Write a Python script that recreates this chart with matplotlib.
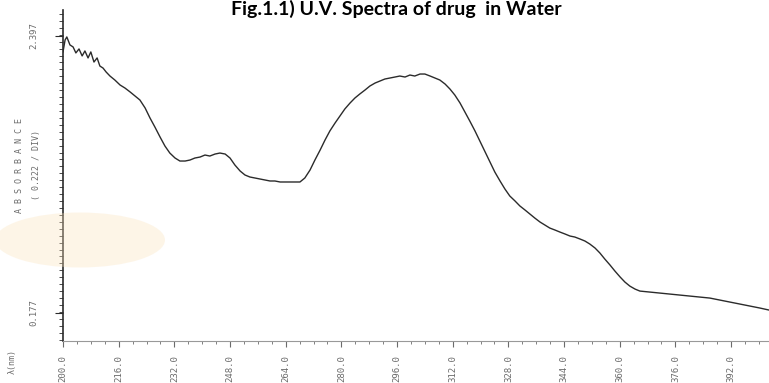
"""UV spectrum of drug in water, redrawn from a scanned figure."""

import matplotlib
matplotlib.use("Agg")
import matplotlib.pyplot as plt
from matplotlib.patches import Ellipse
from matplotlib.ticker import MultipleLocator, FixedLocator
import numpy as np

# ── data ─────────────────────────────────────────────────
wavelength = [
    200.0, 200.6, 201.1, 202.0, 202.9, 203.7, 204.6, 205.5, 206.3, 207.2,
    208.0, 208.9, 209.8, 210.6, 211.5, 212.4, 213.5, 214.9, 216.4, 217.8,
    219.3, 220.7, 222.1, 223.6, 225.0, 226.4, 227.9, 229.3, 230.7, 232.2,
    233.6, 235.1, 236.5, 237.9, 239.4, 240.8, 242.2, 243.7, 245.1, 246.6,
    248.0, 249.4, 250.9, 252.3, 253.7, 255.2, 256.6, 258.0, 259.5, 260.9,
    262.4, 263.8, 265.2, 266.7, 268.1, 269.5, 271.0, 272.4, 273.9, 275.3,
    276.7, 278.2, 279.6, 281.0, 282.5, 283.9, 285.3, 286.8, 288.2, 289.7,
    291.1, 292.5, 294.0, 295.4, 296.8, 298.3, 299.7, 301.1, 302.6, 304.0,
    305.5, 306.9, 308.3, 309.8, 311.2, 312.6, 314.1, 315.5, 316.9, 318.4,
    319.8, 321.3, 322.7, 324.1, 325.6, 327.0, 328.4, 329.9, 331.3, 332.8,
    334.2, 335.6, 337.1, 338.5, 339.9, 341.4, 342.8, 344.3, 345.7, 347.1,
    348.6, 350.0, 351.4, 352.9, 354.3, 355.7, 357.2, 358.6, 360.1, 361.5,
    362.9, 364.4, 365.8, 368.7, 371.6, 374.4, 377.3, 380.2, 383.0, 385.9,
    388.8, 391.7, 394.5, 397.4, 400.3, 402.9,
]
absorbance = [
    2.269, 2.365, 2.389, 2.325, 2.309, 2.261, 2.293, 2.237, 2.277, 2.221,
    2.269, 2.188, 2.221, 2.156, 2.140, 2.108, 2.076, 2.044, 2.004, 1.980,
    1.948, 1.916, 1.884, 1.820, 1.740, 1.668, 1.587, 1.515, 1.459, 1.419,
    1.395, 1.395, 1.403, 1.419, 1.427, 1.443, 1.435, 1.451, 1.459, 1.451,
    1.419, 1.363, 1.315, 1.283, 1.267, 1.259, 1.251, 1.243, 1.235, 1.235,
    1.227, 1.227, 1.227, 1.227, 1.227, 1.259, 1.323, 1.403, 1.483, 1.563,
    1.636, 1.700, 1.756, 1.812, 1.860, 1.900, 1.932, 1.964, 1.996, 2.020,
    2.036, 2.052, 2.060, 2.068, 2.076, 2.068, 2.084, 2.076, 2.092, 2.092,
    2.076, 2.060, 2.044, 2.012, 1.972, 1.924, 1.860, 1.788, 1.716, 1.636,
    1.555, 1.467, 1.387, 1.307, 1.235, 1.171, 1.115, 1.075, 1.035, 1.002,
    0.970, 0.938, 0.906, 0.882, 0.858, 0.842, 0.826, 0.810, 0.794, 0.786,
    0.770, 0.754, 0.730, 0.698, 0.658, 0.610, 0.562, 0.514, 0.466, 0.425,
    0.393, 0.369, 0.353, 0.345, 0.337, 0.329, 0.321, 0.313, 0.305, 0.297,
    0.281, 0.265, 0.249, 0.233, 0.217, 0.201,
]
x_major = [200, 216, 232, 248, 264, 280, 296, 312, 328, 344, 360, 376, 392]
x_labels = ["200.0", "216.0", "232.0", "248.0", "264.0", "280.0", "296.0",
            "312.0", "328.0", "344.0", "360.0", "376.0", "392.0"]
y_major = [0.177, 2.397]
y_labels = ["0.177", "2.397"]

GREY = "#6b6b6b"
INK = "#2b2b2b"

fig = plt.figure(figsize=(7.69, 3.83), dpi=100)
fig.patch.set_facecolor("white")

# faint stain from the scan
fig.patches.append(Ellipse((80 / 769, 1 - 240 / 383), 170 / 769, 55 / 383,
                           transform=fig.transFigure, facecolor="#fbe3bd",
                           alpha=0.35, edgecolor="none", zorder=0))

ax = fig.add_axes([63 / 769, 42 / 383, 706 / 769, 331 / 383])
ax.patch.set_alpha(0)
ax.plot(wavelength, absorbance, color=INK, lw=1.0)

ax.set_xlim(200, 402.9)
ax.set_ylim(-0.047, 2.605)
for side in ("top", "right"):
    ax.spines[side].set_visible(False)
ax.spines["left"].set_color(INK)
ax.spines["bottom"].set_color("#999999")
ax.spines["left"].set_linewidth(1.2)

ax.xaxis.set_major_locator(FixedLocator(x_major))
ax.xaxis.set_minor_locator(MultipleLocator(4))
ax.set_xticklabels(x_labels, rotation=90, fontsize=6.5, color=GREY,
                   family="DejaVu Sans Mono")
ax.tick_params(axis="x", which="major", length=4, color=GREY, pad=6)
ax.tick_params(axis="x", which="minor", length=2.5, color=GREY)

ax.yaxis.set_major_locator(FixedLocator(y_major))
ax.yaxis.set_minor_locator(FixedLocator(np.arange(-0.0355, 2.6, 0.0555)))
ax.set_yticklabels(y_labels, rotation=90, fontsize=6.5, color=GREY,
                   family="DejaVu Sans Mono", va="center")
ax.tick_params(axis="y", which="major", length=6, color=INK, pad=12)
ax.tick_params(axis="y", which="minor", length=3, color=INK)

# axis captions in the old instrument style
fig.text(20 / 769, 1 - 165 / 383, "A B S O R B A N C E", rotation=90, ha="center",
         va="center", fontsize=6, color=GREY, family="DejaVu Sans Mono")
fig.text(37 / 769, 1 - 165 / 383, "( 0.222 / DIV)", rotation=90, ha="center",
         va="center", fontsize=6, color=GREY, family="DejaVu Sans Mono")
fig.text(12 / 769, 1 - 362 / 383, "λ(nm)", rotation=90, ha="center",
         va="center", fontsize=6, color=GREY, family="DejaVu Sans Mono")

# title
fig.text(0.515, 1 - 15 / 383, "Fig.1.1) U.V. Spectra of drug  in Water",
         ha="center", va="baseline", fontsize=14, fontweight="bold",
         family=["Lato", "DejaVu Sans"], color="black")

fig.savefig("out.png", dpi=100, facecolor="white")
